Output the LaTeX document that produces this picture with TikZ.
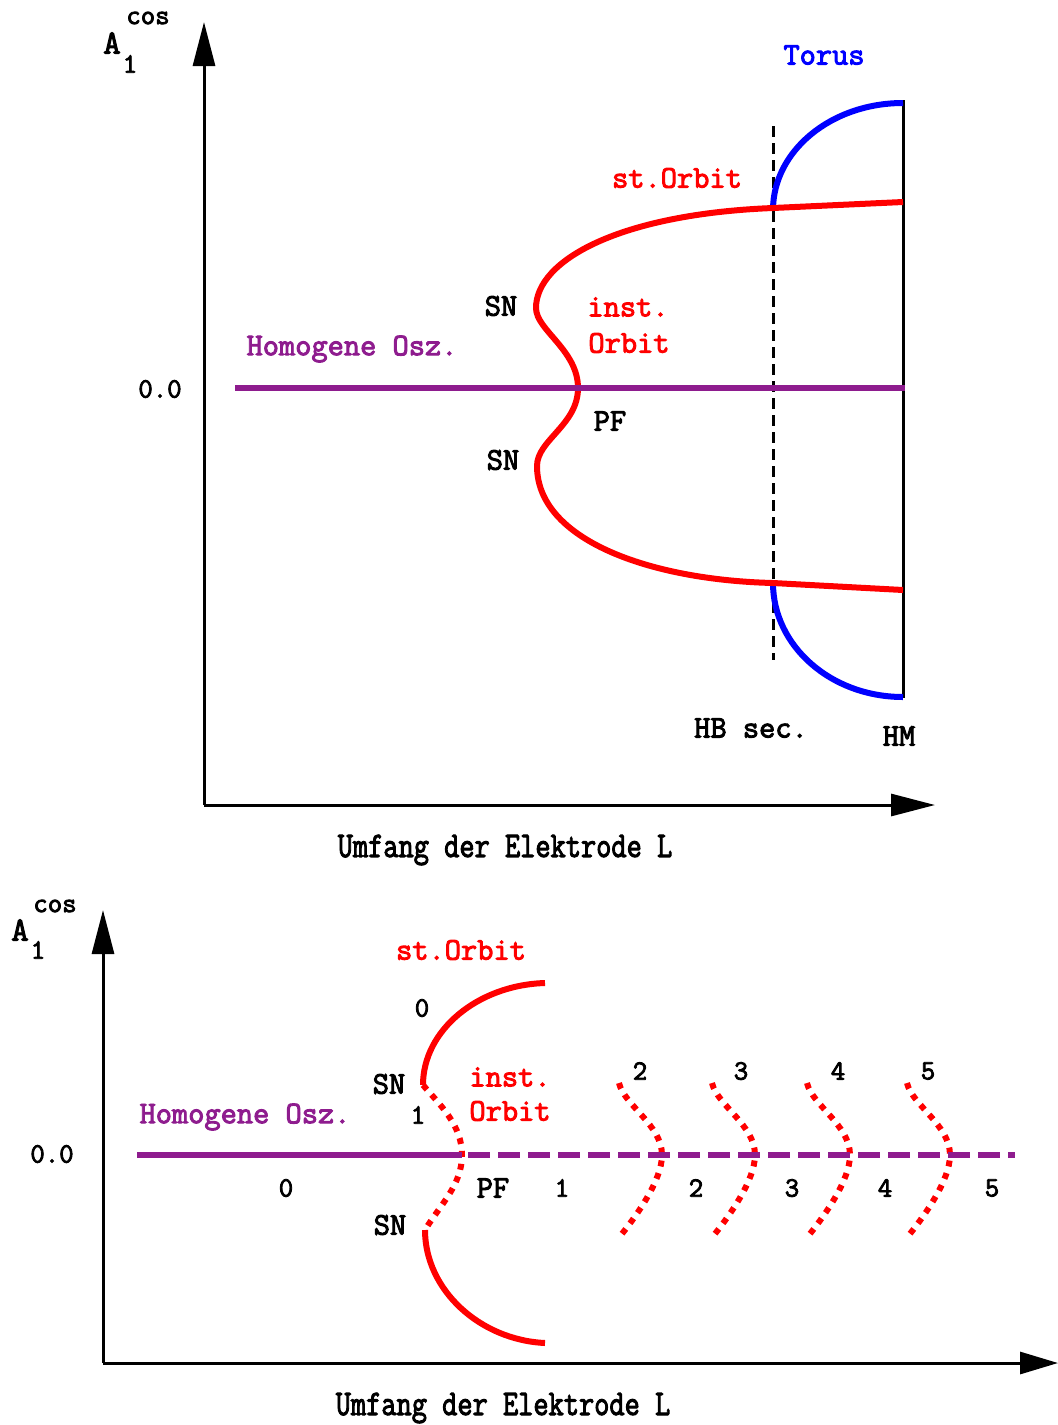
\documentclass[tikz,border=0pt]{standalone}
\usepackage{fontspec}
\setmonofont{Latin Modern Mono}[AutoFakeBold=3]
\usetikzlibrary{arrows.meta}
\definecolor{orbitclr}{RGB}{255,0,0}
\definecolor{torusclr}{RGB}{0,0,255}
\definecolor{homclr}{RGB}{142,28,142}

\tikzset{
  lbl/.style={font=\fontsize{31.5}{33}\selectfont\ttfamily\bfseries, inner sep=0pt},
  num/.style={font=\fontsize{28}{30}\selectfont\ttfamily\bfseries, inner sep=0pt},
  axlabel/.style={font=\fontsize{36}{38}\selectfont\ttfamily\bfseries, inner sep=0pt, xscale=0.82},
  axis/.style={line width=3pt, -{Triangle[length=44pt,width=22pt]}},
  branch/.style={line width=6pt},
  dotbranch/.style={orbitclr, line width=6pt, dash pattern=on 6pt off 7pt},
}

\begin{document}
\begin{tikzpicture}[x=1pt,y=-1pt]
\useasboundingbox (0,0) rectangle (1058,1425);

% ---------- upper diagram ----------
\coordinate (O1) at (204,805);
\coordinate (Y1) at (204,22);
\coordinate (X1) at (935,805);
\draw[axis] (O1) -- (Y1);
\draw[axis] (O1) -- (X1);

% Axis labels
\node[lbl, font=\fontsize{34}{36}\selectfont\ttfamily\bfseries] (A1) at (112,43) {A};
\node[num] (A1sub) at (130,64) {1};
\node[num] (A1sup) at (148,18) {cos};
\node[num] (zero1) at (160,389) {0.0};
\node[axlabel] (L1) at (505,850) {Umfang der Elektrode L};

% HB sec. and HM lines
\draw[line width=3pt, dash pattern=on 11pt off 6pt] (773,126) -- (773,660);
\draw[line width=3pt] (903,100) -- (903,698);

% Torus branches
\draw[branch, torusclr] (773,210) .. controls (773,151) and (831,103) .. (903,103);
\draw[branch, torusclr] (773,583) .. controls (773,646) and (831,697) .. (903,697);

% periodic orbit branches
\draw[branch, orbitclr] (903,202) -- (773,208)
  .. controls (620,214) and (536,260) .. (536,308)
  .. controls (536,330) and (578,350) .. (578,388)
  .. controls (578,425) and (537,440) .. (537,466)
  .. controls (537,540) and (650,580) .. (773,583) -- (903,590);

% homogeneous oscillation
\draw[branch, homclr] (235,388) -- (905,388);

% Labels
\node[lbl, torusclr] (torus) at (824,55) {Torus};
\node[lbl, orbitclr] (stOrbit1) at (677,178) {st.Orbit};
\node[lbl] (SNa1) at (501,306) {SN};
\node[lbl, orbitclr] (inst1) at (628,307) {inst.};
\node[lbl, orbitclr] (orbit1) at (629,343) {Orbit};
\node[lbl, homclr] (hom1) at (352,349) {Homogene Osz.};
\node[lbl] (PF1) at (610,421) {PF};
\node[lbl] (SNb1) at (503,460) {SN};
\node[lbl] (HB) at (751,728) {HB sec.};
\node[lbl] (HM) at (899,736) {HM};

% ---------- lower diagram ----------
\coordinate (O2) at (103,1363);
\coordinate (Y2) at (103,910);
\coordinate (X2) at (1058,1363);
\draw[axis] (O2) -- (Y2);
\draw[line width=3pt, -{Triangle[length=38pt,width=22pt]}] (O2) -- (X2);

\node[lbl, font=\fontsize{34}{36}\selectfont\ttfamily\bfseries] (A2) at (20,930) {A};
\node[num] (A2sub) at (38,950) {1};
\node[num] (A2sup) at (55,906) {cos};
\node[num] (zero2) at (52,1154) {0.0};
\node[axlabel] (L2) at (503,1408) {Umfang der Elektrode L};

% stable and unstable parts
\draw[branch, orbitclr] (545,983) .. controls (478,985) and (423,1030) .. (423,1085);
\draw[dotbranch] (423,1085) .. controls (440,1105) and (462,1125) .. (462,1155)
  .. controls (462,1185) and (440,1205) .. (425,1230);
\draw[branch, orbitclr] (425,1230) .. controls (425,1290) and (480,1340) .. (545,1343);

% further pitchforks
\foreach \xa/\xt/\xb/\n in {619/640/696/2, 712/741/792/3, 807/838/885/4, 907/928/992/5}{
  \draw[dotbranch] (\xa,1083) .. controls (\xa+5,1105) and (\xa+43,1125) .. (\xa+43,1155)
    .. controls (\xa+43,1180) and (\xa+18,1215) .. (\xa+2,1235);
  \node[num] (top\n) at (\xt,1071) {\n};
  \node[num] (bot\n) at (\xb,1188) {\n};
}

\draw[branch, homclr] (137,1155) -- (462,1155);
\draw[branch, homclr, dash pattern=on 22pt off 8pt] (468,1155) -- (1015,1155);

\node[lbl, orbitclr] (stOrbit2) at (461,950) {st.Orbit};
\node[num] (top0) at (422,1008) {0};
\node[lbl] (SNa2) at (389,1084) {SN};
\node[num] (top1) at (418,1115) {1};
\node[lbl, orbitclr] (inst2) at (510,1077) {inst.};
\node[lbl, orbitclr] (orbit2) at (510,1111) {Orbit};
\node[lbl, homclr] (hom2) at (245,1117) {Homogene Osz.};
\node[num] (bot0) at (286,1188) {0};
\node[lbl] (PF2) at (493,1188) {PF};
\node[num] (bot1) at (562,1188) {1};
\node[lbl] (SNb2) at (390,1225) {SN};

\end{tikzpicture}
\end{document}
